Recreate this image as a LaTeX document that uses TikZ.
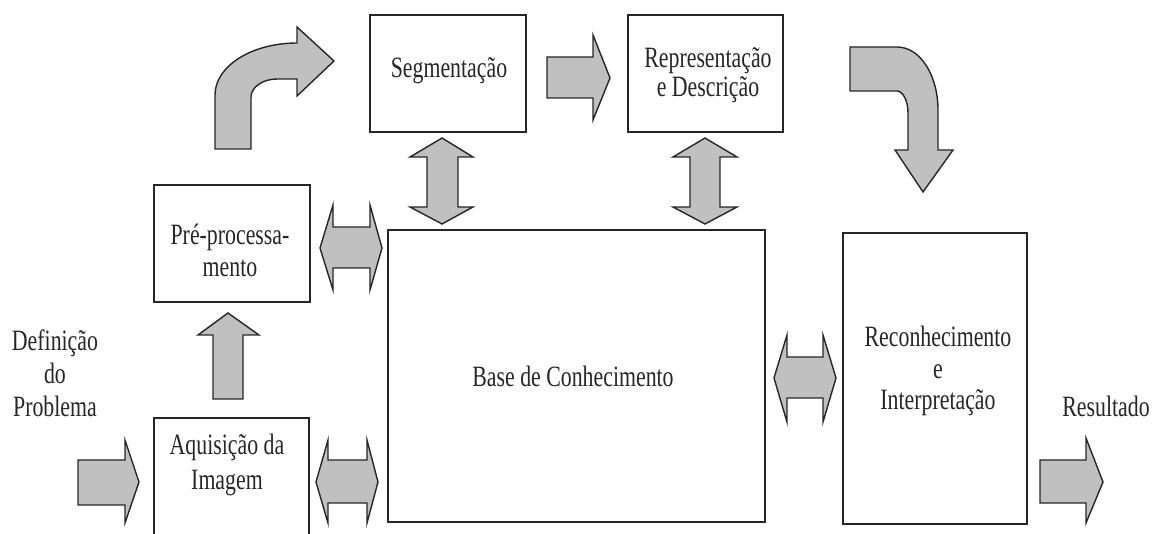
\documentclass[tikz,border=0pt]{standalone}
\usepackage{fontspec}
\setmainfont{Liberation Serif}
\usepackage{graphicx}
\definecolor{arrowgray}{RGB}{192,192,192}
% label text: condensed serif, optional line spacing
\newcommand\lbtext[2][32]{\fontsize{29.5}{#1}\selectfont\scalebox{0.74}[1]{\begin{tabular}[t]{@{}c@{}}#2\end{tabular}}}
\begin{document}
\begin{tikzpicture}[x=1pt,y=-1pt,
  box/.style={draw=black!85, line width=1.4pt},
  blk/.style={draw=black!85, fill=arrowgray, line width=1.4pt, line join=miter},
  lbl/.style={anchor=base, inner sep=0pt, text=black!85}]
\useasboundingbox (0,0) rectangle (1152,534);
\clip (0,0) rectangle (1152,534);

% processing blocks
\draw[box] (370,15) rectangle (526,132);
\draw[box] (628,15) rectangle (783,132);
\draw[box] (154,185) rectangle (310,302);
\draw[box] (154,418) rectangle (309,545);
\draw[box] (388,230) rectangle (765,522);
\draw[box] (843,233) rectangle (1027,524);

% single block arrows
\draw[blk] (78,460) -- (125,460) -- (125,440) -- (139,482) -- (125,523) -- (125,505) -- (78,505) -- cycle;
\draw[blk] (547,57) -- (593,57) -- (593,35) -- (610,78) -- (593,120) -- (593,98) -- (547,98) -- cycle;
\draw[blk] (1040,460) -- (1086,460) -- (1086,438) -- (1103,482) -- (1086,523) -- (1086,503) -- (1040,503) -- cycle;
\draw[blk] (228,313) -- (259,335) -- (243,335) -- (243,399) -- (213,399) -- (213,335) -- (198,335) -- cycle;

% double block arrows
\draw[blk] (320,248) -- (333,205) -- (333,227) -- (370,227) -- (370,205) -- (382,248) -- (370,290) -- (370,268) -- (333,268) -- (333,290) -- cycle;
\draw[blk] (316,482) -- (328,440) -- (328,460) -- (367,460) -- (367,440) -- (378,482) -- (367,523) -- (367,503) -- (328,503) -- (328,523) -- cycle;
\draw[blk] (774,378) -- (787,335) -- (787,357) -- (823,357) -- (823,335) -- (836,378) -- (823,422) -- (823,398) -- (787,398) -- (787,422) -- cycle;
\draw[blk] (442,138) -- (473,157) -- (458,157) -- (458,207) -- (473,207) -- (442,224) -- (410,207) -- (427,207) -- (427,157) -- (410,157) -- cycle;
\draw[blk] (705,138) -- (737,157) -- (720,157) -- (720,207) -- (737,207) -- (705,224) -- (673,207) -- (690,207) -- (690,157) -- (673,157) -- cycle;

% bent arrows
\draw[blk] (215,149) -- (215,95) .. controls (215,66) and (252,43) .. (297,43) -- (297,27) -- (334,61) -- (297,96) -- (297,79) -- (277,79) .. controls (263,79) and (251,87) .. (251,97) -- (251,149) -- cycle;
\draw[blk] (850,47) -- (897,47) .. controls (920,47) and (938,75) .. (938,110) -- (938,150) -- (953,150) -- (923,192) -- (895,150) -- (908,150) -- (908,113) .. controls (908,101) and (903,91) .. (897,91) -- (850,91) -- cycle;

% labels
\node[lbl] (tseg) at (449,78) {\lbtext{Segmentação}};
\node[lbl] (trep) at (708,68) {\lbtext[29]{Representação\\e Descrição}};
\node[lbl] (tpre) at (230,245) {\lbtext[32]{Pré-processa-\\mento}};
\node[lbl] (taq) at (227,455) {\lbtext[35]{Aquisição da\\Imagem}};
\node[lbl] (tbase) at (573,387) {\lbtext{Base de Conhecimento}};
\node[lbl] (trec) at (938,347) {\lbtext[31.5]{Reconhecimento\\e\\Interpretação}};
\node[lbl] (tres) at (1106,417) {\lbtext{Resultado}};
\node[lbl] (tdef) at (55,351) {\lbtext[33]{Definição\\do\\Problema}};
\end{tikzpicture}
\end{document}
